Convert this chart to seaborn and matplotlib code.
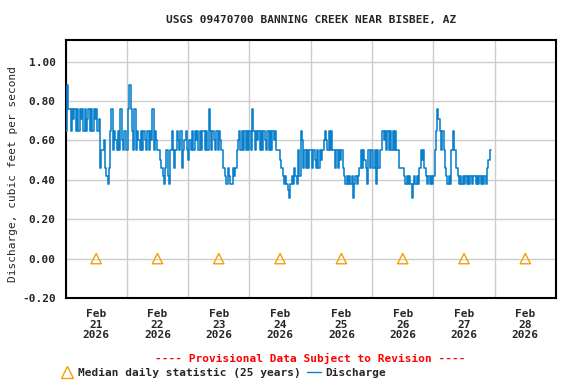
import numpy as np
import pandas as pd
import seaborn as sns
import matplotlib.pyplot as plt
import matplotlib.dates as mdates
from matplotlib.lines import Line2D
from matplotlib.ticker import NullFormatter

# USGS style discharge hydrograph, 30 minute values

title = 'USGS 09470700 BANNING CREEK NEAR BISBEE, AZ'

# discharge steps (cfs) the gage reports, one letter each
levels = {'a': 0.31, 'b': 0.35, 'c': 0.38, 'd': 0.42, 'e': 0.46, 'f': 0.50,
          'g': 0.55, 'h': 0.60, 'i': 0.65, 'j': 0.71, 'k': 0.76, 'l': 0.82,
          'm': 0.88}

# one string per day, 48 half hour values (last day ends early)
feb21 = 'imk' + 'kikjkikikjkikijkikikjkij' + 'egghedcei' + 'k' + 'gihgigkhgig'
feb22 = 'gkmkig' + 'k' + 'gihgigihgigih' + 'k' + 'gihg' + 'gfe' + 'dcegdc' + 'gigegihgieghig'
feb23 = 'fh' + 'gigihigigiigig' + 'k' + 'igihgigi' + 'hg' + 'eedcedcced' + 'egh' + 'igigigig'
feb24 = 'ig' + 'k' + 'igihigigihgigigihigg' + 'gfe' + 'dcdcbac' + 'dcedcgd' + 'ihe' + 'gegeg'
feb25 = 'gegfegegfg' + 'hihgigig' + 'gegegfge' + 'dcdcdcdacdcd' + 'egegfecgeg'
feb26 = 'gegcgeg' + 'gih' + 'igigigigig' + 'geee' + 'edcdcdcacdcdce' + 'gfge' + 'dcdcdc'
feb27 = 'dgi' + 'k' + 'jigi' + 'ge' + 'dcdc' + 'gig' + 'ge' + 'dcdcdcdcdcdcddcdcdcdcdc' + 'efgg'

# median daily statistic
median_days = ['2026-02-21', '2026-02-22', '2026-02-23', '2026-02-24',
               '2026-02-25', '2026-02-26', '2026-02-27', '2026-02-28']
median_values = [0.00, 0.00, 0.00, 0.00, 0.00, 0.00, 0.00, 0.00]

yticks = [-0.2, 0.0, 0.2, 0.4, 0.6, 0.8, 1.0]
ytick_labels = ['-0.20', '0.00', '0.20', '0.40', '0.60', '0.80', '1.00']

blue = '#0a80cc'
orange = '#f5a000'

codes = feb21 + feb22 + feb23 + feb24 + feb25 + feb26 + feb27
discharge = pd.DataFrame({
    'time': pd.date_range('2026-02-21 00:00', periods=len(codes), freq='30min'),
    'cfs': [levels[c] for c in codes]})
median = pd.DataFrame({
    'time': pd.to_datetime(median_days) + pd.Timedelta(hours=12),
    'cfs': median_values})

sns.set_style('white')
plt.rcParams['font.family'] = ['DejaVu Sans Mono']
plt.rcParams['font.weight'] = 'bold'
plt.rcParams['axes.unicode_minus'] = False

fig = plt.figure(figsize=(5.76, 3.84), dpi=100)
ax = fig.add_axes([65.5 / 576, 1 - 298 / 384, (556 - 65.5) / 576, (298 - 40) / 384])

sns.lineplot(data=discharge, x='time', y='cfs', ax=ax, color=blue, lw=1.15,
             drawstyle='steps-post', zorder=3)
sns.scatterplot(data=median, x='time', y='cfs', ax=ax, marker='^', s=55,
                color='none', edgecolor=orange, linewidth=1, zorder=4)

ax.set_xlim(pd.Timestamp('2026-02-21'), pd.Timestamp('2026-03-01'))
ax.set_ylim(-0.2, 1.11)
ax.xaxis.set_major_locator(mdates.DayLocator())
ax.xaxis.set_major_formatter(NullFormatter())
ax.xaxis.set_minor_locator(mdates.HourLocator(byhour=12))
ax.xaxis.set_minor_formatter(mdates.DateFormatter('%b\n%d\n%Y'))
ax.set_yticks(yticks)
ax.set_yticklabels(ytick_labels)
ax.tick_params(axis='x', which='both', length=0, pad=8, labelsize=8)
ax.tick_params(axis='y', length=0, pad=7, labelsize=8)
for lab in ax.get_xticklabels(minor=True):
    lab.set_linespacing(1.05)
ax.grid(True, which='major', color='#cccccc', lw=1)
for s in ax.spines.values():
    s.set_color('black')
    s.set_linewidth(1.5)

ax.set_xlabel('')
ax.set_ylabel('Discharge, cubic feet per second', fontsize=8)
ax.yaxis.set_label_coords(-(65.5 - 18) / 490.5, 0.48)

fig.text(311 / 576, 1 - 20 / 384, title, ha='center', va='center', fontsize=8)
fig.text(310 / 576, 1 - 358 / 384, '---- Provisional Data Subject to Revision ----',
         ha='center', va='center', fontsize=8, color='red')

handles = [Line2D([], [], marker='^', ls='none', mfc='none', mec=orange, ms=8, mew=1),
           Line2D([], [], color=blue, lw=1)]
fig.legend(handles, ['Median daily statistic (25 years)', 'Discharge'],
           loc='center', bbox_to_anchor=(223 / 576, 1 - 373 / 384), ncol=2,
           frameon=False, fontsize=8, handlelength=1.3, handletextpad=0.4,
           columnspacing=0.5, borderpad=0)

fig.savefig('out.png', dpi=100)
